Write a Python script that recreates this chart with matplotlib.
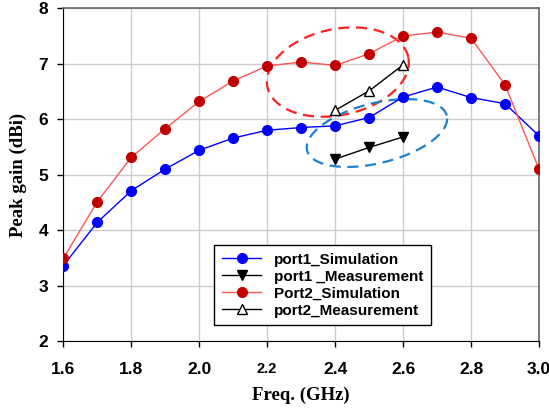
import numpy as np
import matplotlib
matplotlib.use("Agg")
import matplotlib.pyplot as plt

# data
freq = [1.6, 1.7, 1.8, 1.9, 2.0, 2.1, 2.2, 2.3, 2.4, 2.5, 2.6, 2.7, 2.8, 2.9, 3.0]
port1_sim = [3.36, 4.14, 4.71, 5.10, 5.44, 5.66, 5.80, 5.85, 5.88, 6.03, 6.40, 6.58, 6.39, 6.28, 5.70]
port2_sim = [3.49, 4.51, 5.31, 5.83, 6.32, 6.69, 6.96, 7.03, 6.97, 7.18, 7.50, 7.57, 7.46, 6.62, 5.10]
meas_freq = [2.4, 2.5, 2.6]
port1_meas = [5.28, 5.49, 5.68]
port2_meas = [6.16, 6.51, 6.98]
xticks = [1.6, 1.8, 2.0, 2.2, 2.4, 2.6, 2.8, 3.0]
yticks = [2, 3, 4, 5, 6, 7, 8]

plt.rcParams['font.family'] = ['Liberation Sans', 'DejaVu Sans']

fig = plt.figure(figsize=(5.49, 4.08), dpi=100)
ax = fig.add_axes([0.1153, 0.1642, 0.8665, 0.8155])

ax.plot(freq, port1_sim, color="#0000ff", lw=1, marker="o", ms=7,
        mfc="#0000ff", mec="#0000ff", label="port1_Simulation", zorder=3)
ax.plot(meas_freq, port1_meas, color="black", lw=1, marker="v", ms=7.5,
        mfc="black", mec="black", label="port1 _Measurement", zorder=3)
ax.plot(freq, port2_sim, color="#ff5555", lw=1, marker="o", ms=7,
        mfc="#c00000", mec="#c00000", label="Port2_Simulation", zorder=3)
ax.plot(meas_freq, port2_meas, color="black", lw=1, marker="^", ms=7.5,
        mfc="white", mec="black", label="port2_Measurement", zorder=3)

# dashed ellipses (drawn in pixel space, then mapped to data)
px_x = 0.8665 * 549 / 1.4
px_y = 0.8155 * 408 / 6.0
t = np.linspace(0, 2 * np.pi, 200)


def ellipse(cx, cy, a, b, ang, color):
    th = np.deg2rad(ang)
    ex = a * np.cos(t) * np.cos(th) - b * np.sin(t) * np.sin(th)
    ey = a * np.cos(t) * np.sin(th) + b * np.sin(t) * np.cos(th)
    ax.plot(cx + ex / px_x, cy + ey / px_y, color=color, lw=1.6,
            ls=(0, (5, 3)), zorder=2)


ellipse(2.408, 6.85, 72, 43, 12, "#ff2020")
ellipse(2.523, 5.75, 72, 30, 14, "#1f7fd0")

ax.set_xlim(1.6, 3.0)
ax.set_ylim(2, 8)
ax.set_xticks(xticks)
ax.set_yticks(yticks)
ax.set_xticklabels(["%.1f" % v for v in xticks], fontsize=12.5, fontweight="bold")
ax.set_yticklabels([str(v) for v in yticks], fontsize=12.5, fontweight="bold")
ax.get_xticklabels()[3].set_fontsize(10.5)
ax.tick_params(direction="out", length=4, width=1, pad=11)
ax.tick_params(axis="y", pad=7)
ax.grid(True, color="#cccccc", lw=1)
ax.set_axisbelow(True)

for s in ["top", "right"]:
    ax.spines[s].set_color("#666666")
    ax.spines[s].set_linewidth(1.2)

ax.set_xlabel("Freq. (GHz)", family="Liberation Serif", fontweight="bold",
              fontsize=13.5, labelpad=7)
ax.set_ylabel("Peak gain (dBi)", family="Liberation Serif", fontweight="bold",
              fontsize=13.5, labelpad=8)

leg = ax.legend(loc="lower left", bbox_to_anchor=(0.301, 0.024, 0.488, 0.295),
                mode="expand", fancybox=False, framealpha=1, edgecolor="black",
                prop={"weight": "bold", "size": 11}, handlelength=2.6,
                labelspacing=0.2, borderpad=0.5, handletextpad=0.8)
leg.get_frame().set_linewidth(1)

fig.savefig("out.png", dpi=100)
